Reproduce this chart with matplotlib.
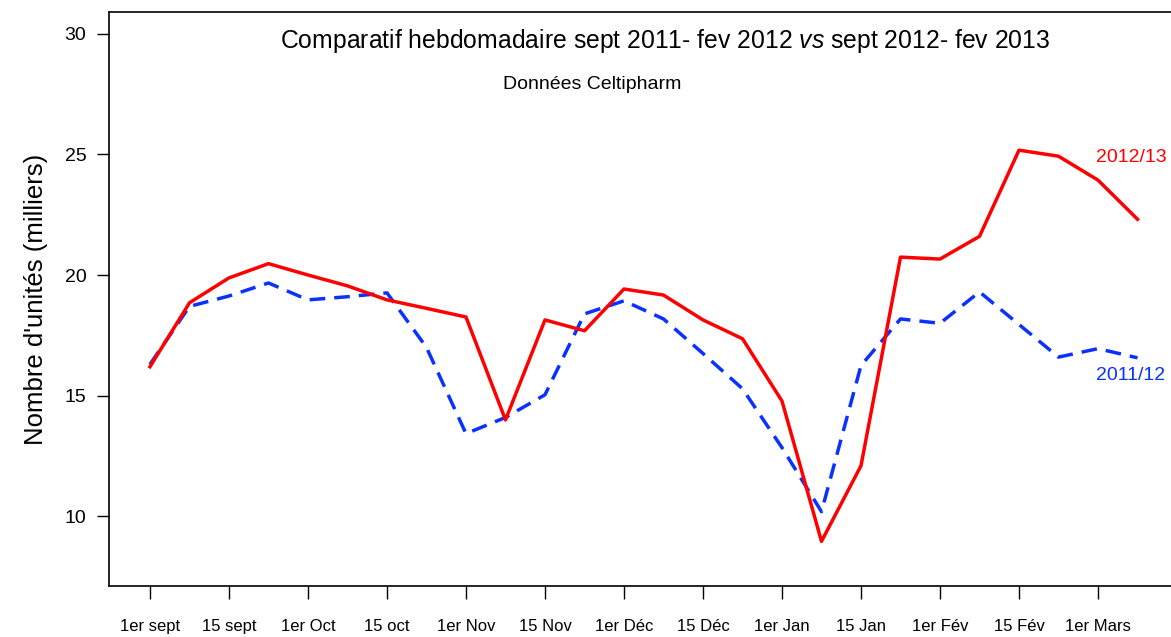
import matplotlib
matplotlib.use('Agg')
import matplotlib.pyplot as plt
import numpy as np

plt.rcParams['font.family'] = ['Liberation Sans', 'DejaVu Sans']
plt.rcParams['mathtext.fontset'] = 'custom'
plt.rcParams['mathtext.rm'] = 'Liberation Sans'
plt.rcParams['mathtext.it'] = 'Liberation Sans:italic'

# weekly sales, thousands of units
ventes_2012 = [16.2, 18.85, 19.88, 20.47, 20.0, 19.55, 18.97, 18.62, 18.26, 14.0,
               18.14, 17.69, 19.42, 19.17, 18.14, 17.36, 14.78, 8.97, 12.1, 20.74,
               20.66, 21.6, 25.17, 24.92, 23.93, 22.31]
ventes_2011 = [16.3, 18.7, 19.13, 19.67, 18.97, 19.1, 19.26, 17.0, 13.43, 14.1,
               15.04, 18.39, 18.93, 18.18, 16.75, 15.29, 12.85, 10.2, 16.25, 18.18,
               18.0, 19.3, 17.95, 16.6, 16.95, 16.57]
labels_x = ['1er sept', '15 sept', '1er Oct', '15 oct', '1er Nov', '15 Nov', '1er Déc',
            '15 Déc', '1er Jan', '15 Jan', '1er Fév', '15 Fév', '1er Mars']
semaines = np.arange(len(ventes_2012))

fig = plt.figure(figsize=(11.71, 6.37), dpi=100)
ax = fig.add_axes([108.5 / 1171, 51 / 637, (1177 - 108.5) / 1171, (586 - 12.3) / 637])

ax.plot(semaines, ventes_2011, color='#0a32ff', lw=2.5, dashes=(4.5, 2.6))
ax.plot(semaines, ventes_2012, color='#ff0000', lw=2.5)

ax.set_xlim(-1.05, 26)
ax.set_ylim(7.12, 30.88)
ax.set_xticks(semaines[::2])
ax.set_xticklabels(labels_x, fontsize=12)
ax.set_yticks([10, 15, 20, 25, 30])
ax.tick_params(axis='y', labelsize=14, length=9, width=1, pad=7)
ax.tick_params(axis='x', length=9, width=1, pad=15)
for s in ax.spines.values():
    s.set_linewidth(1.2)

ax.set_ylabel("Nombre d'unités (milliers)", fontsize=18.5, labelpad=12)

ax.text(13.03, 29.7, r'Comparatif hebdomadaire sept 2011- fev 2012 $\mathit{vs}$ sept 2012- fev 2013',
        ha='center', va='center', fontsize=17.8)
ax.text(11.2, 27.9, 'Données Celtipharm', ha='center', va='center', fontsize=14)

ax.text(23.95, 24.87, '2012/13', color='#ff0000', ha='left', va='center', fontsize=14)
ax.text(23.95, 15.83, '2011/12', color='#0a32ff', ha='left', va='center', fontsize=14)

fig.savefig('out.png', dpi=100)
